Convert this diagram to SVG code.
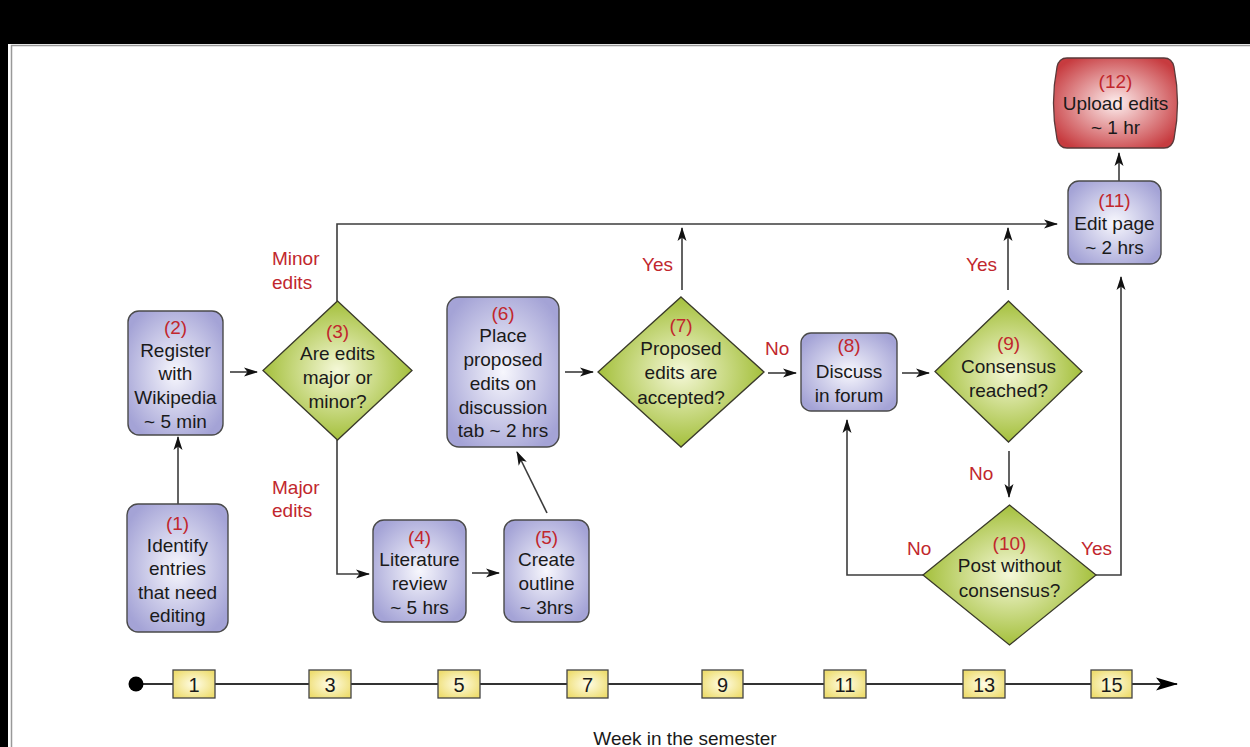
<svg xmlns="http://www.w3.org/2000/svg" width="1250" height="747" viewBox="0 0 1250 747">
<style>
text{font-family:"Liberation Sans",Arial,sans-serif;font-size:19px;fill:#1a1a1a;text-anchor:middle}
.n{fill:#c1272d}
.lbl{fill:#c1272d;text-anchor:start}
.box{fill:url(#gP);stroke:#4a4a4a;stroke-width:1.4}
.dia{fill:url(#gG);stroke:#3a3a2a;stroke-width:1.3}
.wk{fill:url(#gY);stroke:#444;stroke-width:1.3}
.wt{font-size:20px}
.c{fill:none;stroke:#3c3c3c;stroke-width:1.6}
.ca{fill:none;stroke:#3c3c3c;stroke-width:1.6;marker-end:url(#ah)}
</style>
<defs>
<radialGradient id="gP" cx="50%" cy="50%" r="60%"><stop offset="0" stop-color="#f7f7fd"/><stop offset="1" stop-color="#a4a3d6"/></radialGradient>
<radialGradient id="gG" cx="50%" cy="50%" r="55%"><stop offset="0" stop-color="#f5f8d8"/><stop offset="1" stop-color="#9cba2c"/></radialGradient>
<radialGradient id="gR" cx="50%" cy="50%" r="60%"><stop offset="0" stop-color="#fdeeee"/><stop offset="1" stop-color="#c73b3f"/></radialGradient>
<radialGradient id="gY" cx="50%" cy="50%" r="60%"><stop offset="0" stop-color="#fffde8"/><stop offset="1" stop-color="#eedd70"/></radialGradient>
<marker id="ah" markerWidth="14" markerHeight="10" refX="13" refY="5" orient="auto" markerUnits="userSpaceOnUse"><path d="M0,0.5 L14,5 L0,9.5 L3.5,5 Z" fill="#111"/></marker>
<marker id="ahb" markerWidth="22" markerHeight="14" refX="21" refY="7" orient="auto" markerUnits="userSpaceOnUse"><path d="M0,0.5 L22,7 L0,13.5 L5,7 Z" fill="#000"/></marker>
</defs>
<rect x="0" y="0" width="1250" height="747" fill="#fff"/>
<rect x="0" y="0" width="1250" height="44" fill="#000"/>
<rect x="0" y="0" width="8" height="747" fill="#000"/>
<path d="M11.5,747 V45.5 H1250" fill="none" stroke="#999" stroke-width="1.5"/>

<g id="connectors">
<path class="ca" d="M178,504 V437"/>
<path class="ca" d="M230,372 H257"/>
<path class="ca" d="M337,301 V224 H1057"/>
<path class="ca" d="M337,440 V574 H369"/>
<path class="ca" d="M472,573 H499"/>
<path class="ca" d="M547,513 L517,452"/>
<path class="ca" d="M565,372 H593"/>
<path class="ca" d="M682,290 V228"/>
<path class="ca" d="M768,373 H796"/>
<path class="ca" d="M902,373 H929"/>
<path class="ca" d="M1008,290 V228"/>
<path class="ca" d="M1009,451 V497"/>
<path class="ca" d="M923,575 H847 V420"/>
<path class="ca" d="M1096,575 H1121 V277"/>
<path class="ca" d="M1119,181 V153"/>
</g>

<g id="labels">
<text class="lbl" x="272" y="265">Minor</text>
<text class="lbl" x="272" y="289">edits</text>
<text class="lbl" x="272" y="494">Major</text>
<text class="lbl" x="272" y="517">edits</text>
<text class="lbl" x="642" y="271">Yes</text>
<text class="lbl" x="765" y="355">No</text>
<text class="lbl" x="966" y="271">Yes</text>
<text class="lbl" x="969" y="480">No</text>
<text class="lbl" x="907" y="555">No</text>
<text class="lbl" x="1081" y="555">Yes</text>
</g>

<g id="node1">
<rect class="box" x="127" y="504" width="101" height="128" rx="11"/>
<text class="n" x="177.5" y="530">(1)</text>
<text x="177.5" y="552">Identify</text>
<text x="177.5" y="575">entries</text>
<text x="177.5" y="599">that need</text>
<text x="177.5" y="622">editing</text>
</g>
<g id="node2">
<rect class="box" x="128" y="311" width="95" height="124" rx="11"/>
<text class="n" x="175.5" y="334">(2)</text>
<text x="175.5" y="357">Register</text>
<text x="175.5" y="380">with</text>
<text x="175.5" y="404">Wikipedia</text>
<text x="175.5" y="428">~ 5 min</text>
</g>
<g id="node3">
<polygon class="dia" points="337.5,301 412,370.5 337.5,440 263,370.5"/>
<text class="n" x="337.5" y="338">(3)</text>
<text x="337.5" y="360">Are edits</text>
<text x="337.5" y="384">major or</text>
<text x="337.5" y="408">minor?</text>
</g>
<g id="node4">
<rect class="box" x="373" y="520" width="93" height="102" rx="11"/>
<text class="n" x="419.5" y="544">(4)</text>
<text x="419.5" y="566">Literature</text>
<text x="419.5" y="590">review</text>
<text x="419.5" y="614">~ 5 hrs</text>
</g>
<g id="node5">
<rect class="box" x="504" y="520" width="85" height="102" rx="11"/>
<text class="n" x="546.5" y="544">(5)</text>
<text x="546.5" y="566">Create</text>
<text x="546.5" y="590">outline</text>
<text x="546.5" y="614">~ 3hrs</text>
</g>
<g id="node6">
<rect class="box" x="447" y="297" width="112" height="150" rx="12"/>
<text class="n" x="503" y="320">(6)</text>
<text x="503" y="342">Place</text>
<text x="503" y="366">proposed</text>
<text x="503" y="390">edits on</text>
<text x="503" y="414">discussion</text>
<text x="503" y="437">tab ~ 2 hrs</text>
</g>
<g id="node7">
<polygon class="dia" points="681,297 764,372 681,447 598,372"/>
<text class="n" x="681" y="332">(7)</text>
<text x="681" y="355">Proposed</text>
<text x="681" y="379">edits are</text>
<text x="681" y="404">accepted?</text>
</g>
<g id="node8">
<rect class="box" x="801" y="333" width="96" height="78" rx="10"/>
<text class="n" x="849" y="352">(8)</text>
<text x="849" y="378">Discuss</text>
<text x="849" y="402">in forum</text>
</g>
<g id="node9">
<polygon class="dia" points="1008.5,301 1082,371.5 1008.5,442 935,371.5"/>
<text class="n" x="1008.5" y="350">(9)</text>
<text x="1008.5" y="373">Consensus</text>
<text x="1008.5" y="397">reached?</text>
</g>
<g id="node10">
<polygon class="dia" points="1009.5,505 1096,575 1009.5,645 923,575"/>
<text class="n" x="1009.5" y="550">(10)</text>
<text x="1009.5" y="572">Post without</text>
<text x="1009.5" y="597">consensus?</text>
</g>
<g id="node11">
<rect class="box" x="1068" y="181" width="93" height="83" rx="11"/>
<text class="n" x="1114.5" y="207">(11)</text>
<text x="1114.5" y="230">Edit page</text>
<text x="1114.5" y="254">~ 2 hrs</text>
</g>
<g id="node12">
<path d="M1067,58 H1164 Q1172,58 1174,67 Q1181,103 1174,139 Q1172,148 1164,148 H1067 Q1059,148 1057,139 Q1050,103 1057,67 Q1059,58 1067,58 Z" fill="url(#gR)" stroke="#5a3a3a" stroke-width="1.3"/>
<text class="n" x="1115.5" y="88">(12)</text>
<text x="1115.5" y="110">Upload edits</text>
<text x="1115.5" y="134">~ 1 hr</text>
</g>

<g id="timeline">
<path d="M136,684 H1177" fill="none" stroke="#333" stroke-width="2.2" marker-end="url(#ahb)"/>
<circle cx="136" cy="684" r="7.5" fill="#000"/>
<rect class="wk" x="173" y="670" width="42" height="28"/><text class="wt" x="194" y="691.5">1</text>
<rect class="wk" x="309" y="670" width="42" height="28"/><text class="wt" x="330" y="691.5">3</text>
<rect class="wk" x="438" y="670" width="42" height="28"/><text class="wt" x="459" y="691.5">5</text>
<rect class="wk" x="567" y="670" width="41" height="28"/><text class="wt" x="587.5" y="691.5">7</text>
<rect class="wk" x="702" y="670" width="41" height="28"/><text class="wt" x="722.5" y="691.5">9</text>
<rect class="wk" x="824" y="670" width="42" height="28"/><text class="wt" x="845" y="691.5">11</text>
<rect class="wk" x="963" y="670" width="42" height="28"/><text class="wt" x="984" y="691.5">13</text>
<rect class="wk" x="1091" y="670" width="41" height="28"/><text class="wt" x="1111.5" y="691.5">15</text>
<text x="685" y="745">Week in the semester</text>
</g>
</svg>
